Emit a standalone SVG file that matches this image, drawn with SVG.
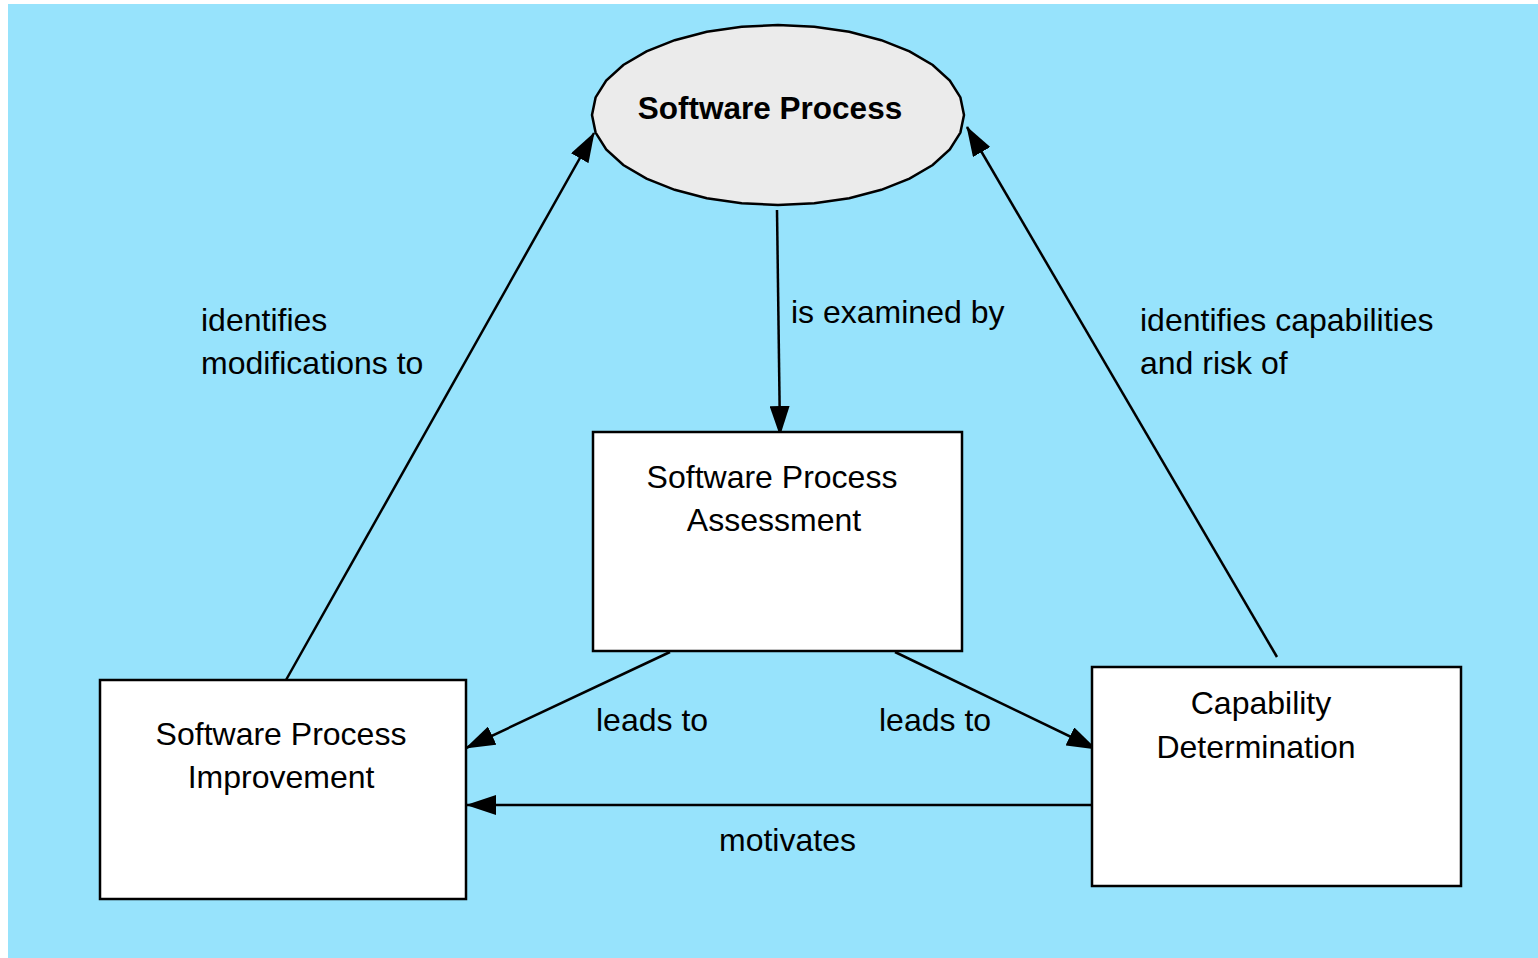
<svg xmlns="http://www.w3.org/2000/svg" width="1538" height="958" viewBox="0 0 1538 958">
  <style>
    .lbl { font-family: "Liberation Sans", Arial, sans-serif; font-size: 32px; fill: #000; }
    .mid { text-anchor: middle; }
    .bold { font-weight: bold; font-size: 31.5px; }
    .box { fill: #fff; stroke: #000; stroke-width: 2.5; }
    .edge { stroke: #000; stroke-width: 2.5; fill: none; marker-end: url(#head); }
  </style>
  <defs>
    <marker id="head" viewBox="0 0 30 20" refX="29" refY="10" markerWidth="30" markerHeight="20" markerUnits="userSpaceOnUse" orient="auto">
      <path d="M0,0 L30,10 L0,20 Z" fill="#000"/>
    </marker>
  </defs>

  <rect x="0" y="0" width="1538" height="958" fill="#fff"/>
  <rect x="8" y="4" width="1530" height="954" fill="#97e3fc"/>

  <g id="connectors">
    <line class="edge" x1="777" y1="210" x2="780" y2="435"/>
    <line class="edge" x1="286" y1="680" x2="594" y2="133"/>
    <line class="edge" x1="1277" y1="657" x2="967" y2="127"/>
    <line class="edge" x1="670" y1="652" x2="466" y2="748"/>
    <line class="edge" x1="895" y1="652" x2="1096" y2="749"/>
    <line class="edge" x1="1092" y1="805" x2="467" y2="805"/>
  </g>

  <g id="software-process">
    <polygon fill="#ebebeb" stroke="#000" stroke-width="2.5"
      points="964,115 960.4,132.6 949.8,149.4 932.7,165 909.5,178.6 881.3,189.8 849.2,198.2 814.3,203.3 778,205 741.7,203.3 706.8,198.2 674.7,189.8 646.5,178.6 623.3,165 606.2,149.4 595.6,132.6 592,115 595.6,97.4 606.2,80.6 623.3,65 646.5,51.4 674.7,40.2 706.8,31.8 741.7,26.7 778,25 814.3,26.7 849.2,31.8 881.3,40.2 909.5,51.4 932.7,65 949.8,80.6 960.4,97.4"/>
    <text class="lbl mid bold" x="770" y="119">Software Process</text>
  </g>

  <g id="assessment">
    <rect class="box" x="593" y="432" width="369" height="219"/>
    <text class="lbl mid" x="772" y="488">Software Process</text>
    <text class="lbl mid" x="774" y="531">Assessment</text>
  </g>

  <g id="improvement">
    <rect class="box" x="100" y="680" width="366" height="219"/>
    <text class="lbl mid" x="281" y="745">Software Process</text>
    <text class="lbl mid" x="281" y="788">Improvement</text>
  </g>

  <g id="capability">
    <rect class="box" x="1092" y="667" width="369" height="219"/>
    <text class="lbl mid" x="1261" y="714">Capability</text>
    <text class="lbl mid" x="1256" y="758">Determination</text>
  </g>

  <g id="edge-labels">
    <text class="lbl" x="791" y="323">is examined by</text>
    <text class="lbl" x="201" y="331">identifies</text>
    <text class="lbl" x="201" y="374">modifications to</text>
    <text class="lbl" x="1140" y="331">identifies capabilities</text>
    <text class="lbl" x="1140" y="374">and risk of</text>
    <text class="lbl" x="596" y="731">leads to</text>
    <text class="lbl" x="879" y="731">leads to</text>
    <text class="lbl" x="719" y="851">motivates</text>
  </g>
</svg>
